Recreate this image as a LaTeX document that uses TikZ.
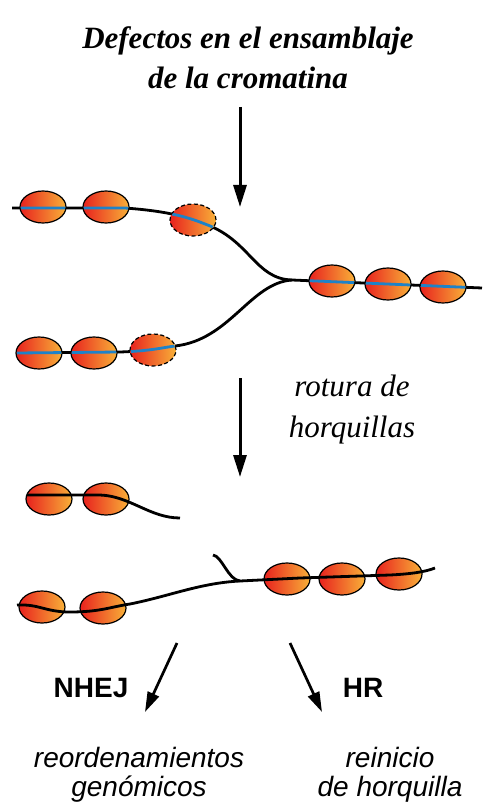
\documentclass[tikz,border=0pt]{standalone}
\usepackage{fontspec}
\setmainfont{Liberation Serif}
\setsansfont{Liberation Sans}
\usetikzlibrary{arrows.meta}
\usetikzlibrary{shapes.geometric}
\definecolor{nucred}{RGB}{232,34,30}
\definecolor{nucorange}{RGB}{248,176,56}
\definecolor{dnablue}{RGB}{30,130,200}

\begin{document}
\begin{tikzpicture}[x=1pt,y=-1pt,
  nuc/.style={ellipse,draw,line width=1.2pt,minimum width=46pt,minimum height=32pt,
    inner sep=0pt,left color=nucred,right color=nucorange},
  loose/.style={nuc,dashed,dash pattern=on 4pt off 2.5pt},
  dna/.style={line width=2.8pt},
  bigarrow/.style={line width=3pt,-{Triangle[length=22pt,width=13pt]}},
  smallarrow/.style={line width=2.7pt,-{Triangle[length=20pt,width=12pt]}},
  serifnote/.style={align=center,inner sep=0pt,font=\itshape\fontsize{31}{41}\selectfont},
  pathway/.style={inner sep=0pt,anchor=base,font=\sffamily\bfseries\fontsize{28}{29}\selectfont},
  outcome/.style={align=center,inner sep=0pt,font=\sffamily\itshape\fontsize{28}{29}\selectfont}]

\useasboundingbox (0,0) rectangle (482,805);

\node[serifnote,font=\bfseries\itshape\fontsize{31}{40}\selectfont] (head) at (248,58)
  {Defectos en el ensamblaje\\de la cromatina};

\coordinate (a1s) at (240,107);
\coordinate (a1e) at (240,207);
\draw[bigarrow] (a1s) -- (a1e);

% replication fork
\coordinate (fork) at (292,280);
\path[save path=\topstrand] (12,208) -- (125,208) .. controls (165,211) and (185,216) .. (205,224)
  .. controls (250,240) and (255,279) .. (fork);
\path[save path=\botstrand] (17,353) -- (120,352) .. controls (150,351) and (160,348) .. (175,346)
  .. controls (230,340) and (250,283) .. (fork);
\path[save path=\rightstrand] (fork) -- (482,288);

\draw[dna,use path=\topstrand];
\draw[dna,use path=\botstrand];
\draw[dna,use path=\rightstrand];

\node[nuc] (t1) at (43,207) {};
\node[nuc] (t2) at (106,207) {};
\node[loose] (t3) at (193,220) {};
\node[nuc] (b1) at (39,353) {};
\node[nuc] (b2) at (94,353) {};
\node[loose] (b3) at (153,350) {};
\node[nuc] (r1) at (332,281) {};
\node[nuc] (r2) at (388,284) {};
\node[nuc] (r3) at (443,287) {};

% DNA shows blue where it wraps the histones
\begin{scope}
\clip (t1) ellipse [x radius=22.4pt,y radius=15.4pt]
      (t2) ellipse [x radius=22.4pt,y radius=15.4pt]
      (t3) ellipse [x radius=22.4pt,y radius=15.4pt]
      (b1) ellipse [x radius=22.4pt,y radius=15.4pt]
      (b2) ellipse [x radius=22.4pt,y radius=15.4pt]
      (b3) ellipse [x radius=22.4pt,y radius=15.4pt]
      (r1) ellipse [x radius=22.4pt,y radius=15.4pt]
      (r2) ellipse [x radius=22.4pt,y radius=15.4pt]
      (r3) ellipse [x radius=22.4pt,y radius=15.4pt];
\draw[dna,dnablue,use path=\topstrand];
\draw[dna,dnablue,use path=\botstrand];
\draw[dna,dnablue,use path=\rightstrand];
\end{scope}

\coordinate (a2s) at (240,378);
\coordinate (a2e) at (240,477);
\draw[bigarrow] (a2s) -- (a2e);
\node[serifnote] (breaking) at (352,410) {rotura de\\horquillas};

% broken fork
\node[nuc] (u1) at (49,499) {};
\node[nuc] (u2) at (106,499) {};
\draw[dna] (27,495) -- (100,495) .. controls (130,496) and (150,518) .. (180,518);

\node[nuc] (l1) at (42,607) {};
\node[nuc] (l2) at (103,608) {};
\node[nuc] (l3) at (287,579) {};
\node[nuc] (l4) at (342,579) {};
\node[nuc] (l5) at (399,574) {};
\coordinate (nick) at (240,581);
\draw[dna] (17,605) .. controls (40,604) and (45,612) .. (70,612)
  .. controls (100,612) and (110,607) .. (130,604)
  .. controls (170,596) and (200,583) .. (nick)
  -- (300,578) -- (390,575) .. controls (410,574) and (425,572) .. (435,568);
\draw[dna] (213,555) .. controls (222,556) and (228,580) .. (nick);

% repair pathways
\coordinate (a3s) at (177,643);
\coordinate (a3e) at (145,712);
\coordinate (a4s) at (290,643);
\coordinate (a4e) at (322,712);
\draw[smallarrow] (a3s) -- (a3e);
\draw[smallarrow] (a4s) -- (a4e);

\node[pathway] (nhej) at (91,697) {NHEJ};
\node[pathway] (hr) at (363,697) {HR};

\node[outcome] (rearr) at (139,775) {reordenamientos\\genómicos};
\node[outcome] (restart) at (390,775) {reinicio\\de horquilla};

\end{tikzpicture}
\end{document}
